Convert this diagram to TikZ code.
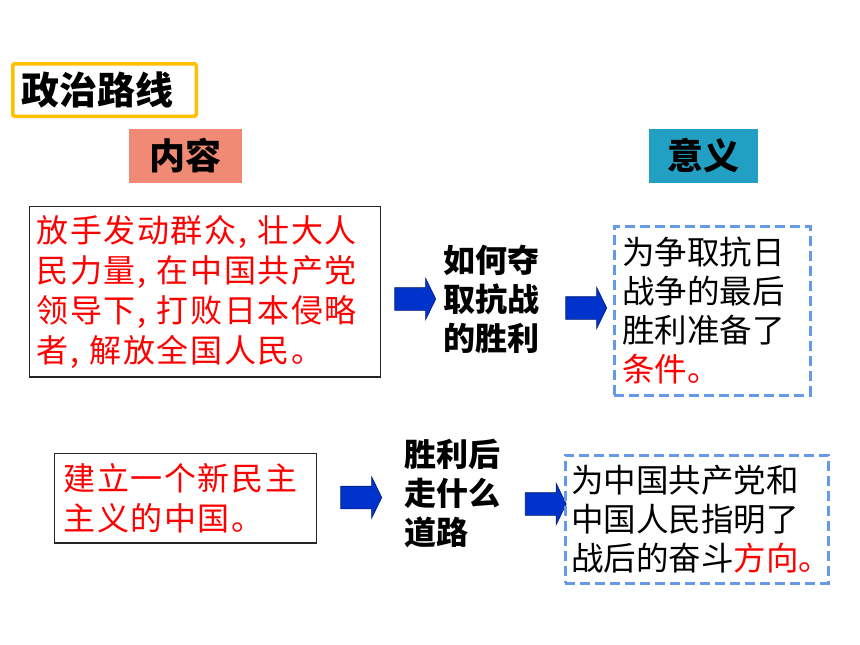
\documentclass[tikz,border=0pt]{standalone}
\usepackage{fontspec}
\newfontfamily\cjk{Noto Sans CJK SC}
\newfontfamily\cjkwide[LetterSpace=5]{Noto Sans CJK SC}
\usepackage{xcolor}
\usetikzlibrary{shapes.arrows,positioning}
\definecolor{titleyellow}{RGB}{255,192,0}
\definecolor{salmonhead}{RGB}{240,138,116}
\definecolor{tealhead}{RGB}{33,160,196}
\definecolor{dashblue}{RGB}{102,153,232}
\definecolor{arrowblue}{RGB}{0,51,204}

\begin{document}
\begin{tikzpicture}[x=1pt, y=-1pt,
	every node/.style={font=\cjk},
	heading/.style={minimum height=54pt, inner sep=0pt, font=\cjk\bfseries\fontsize{36}{36}\selectfont},
	redbox/.style={draw=black!85, line width=1.5pt, text=red, align=left, anchor=north west, inner ysep=0pt, font=\cjkwide\fontsize{32}{40}\selectfont},
	dashbox/.style={draw=dashblue, line width=3pt, dash pattern=on 10pt off 5pt, align=left, anchor=north west, inner ysep=0pt, font=\cjk\fontsize{32.5}{39}\selectfont},
	question/.style={align=left, inner sep=0pt, font=\cjk\bfseries\fontsize{32}{39}\selectfont},
	blockarrow/.style={single arrow, fill=arrowblue, draw=arrowblue!55!black, line width=0.6pt, minimum height=41pt, inner xsep=0pt, inner ysep=11pt, single arrow head extend=9.5pt, single arrow tip angle=128}]
	\fill[white] (0,0) rectangle (860,645);
	\useasboundingbox (0,0) rectangle (860,645);
	%%%%% headings
	\node[draw=titleyellow, line width=3.5pt, rounded corners=2pt, minimum height=52.5pt, text width=165.5pt, inner xsep=9pt, inner ysep=0pt, align=left, font=\cjk\bfseries\fontsize{38}{38}\selectfont] (title) at (104.5,90) {政治路线};
	\node[heading, fill=salmonhead, minimum width=113pt] (content) at (185.5,156) {内容};
	\node[heading, fill=tealhead, minimum width=109pt] (meaning) at (703.5,156) {意义};
	%%%%% first row
	\node[redbox, text width=337pt, inner xsep=7pt, minimum height=170.5pt] (war) at (28.75,205.75) {放手发动群众, 壮大人\\民力量, 在中国共产党\\领导下, 打败日本侵略\\者, 解放全国人民。};
	\node[blockarrow] (ar1) at (412.5,299) {};
	\node[question] (howwin) at (491.5,299) {如何夺\\取抗战\\的胜利};
	\node[blockarrow] (ar2) at (583.5,308) {};
	\node[dashbox, text width=180pt, inner xsep=8pt, minimum height=169pt] (ready) at (612.5,224.5) {为争取抗日\\战争的最后\\胜利准备了\\\textcolor{red}{条件。}};
	%%%%% second row
	\node[redbox, text width=244pt, inner xsep=9pt, minimum height=89.5pt] (newchina) at (53.75,452.75) {建立一个新民主\\主义的中国。};
	\node[blockarrow] (ar3) at (358.5,497.5) {};
	\node[question] (whichway) at (452.5,494) {胜利后\\走什么\\道路};
	\node[blockarrow] (ar4) at (543,504) {};
	\node[dashbox, text width=251pt, inner xsep=6pt, minimum height=128pt] (direction) at (563.5,453.5) {为中国共产党和\\中国人民指明了\\战后的奋斗\textcolor{red}{方向。}};
\end{tikzpicture}
\end{document}
